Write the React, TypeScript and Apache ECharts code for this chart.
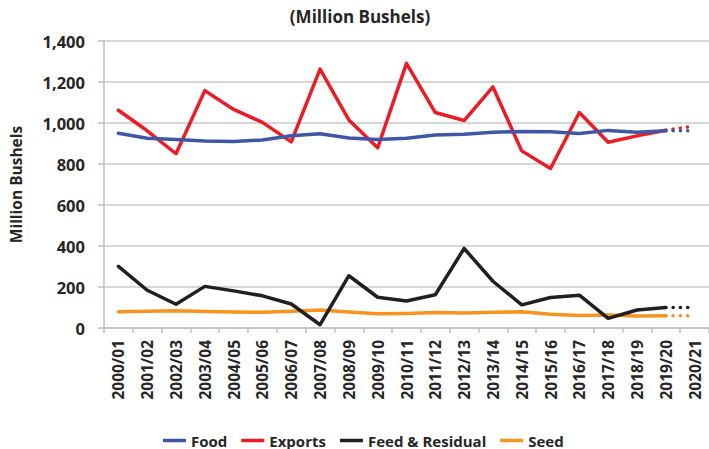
import React, { useEffect, useRef } from "react";
import * as echarts from "echarts";

const categories = [
  "2000/01", "2001/02", "2002/03", "2003/04", "2004/05", "2005/06", "2006/07",
  "2007/08", "2008/09", "2009/10", "2010/11", "2011/12", "2012/13", "2013/14",
  "2014/15", "2015/16", "2016/17", "2017/18", "2018/19", "2019/20", "2020/21",
];

const food = [950, 926, 919, 912, 910, 917, 938, 948, 927, 919, 926, 941, 945, 955, 958, 957, 949, 964, 955, 962, 962];
const exportsData = [1062, 962, 850, 1158, 1066, 1003, 908, 1263, 1015, 879, 1291, 1051, 1012, 1176, 864, 778, 1051, 906, 937, 965, 985];
const feed = [301, 184, 116, 203, 181, 157, 117, 16, 255, 150, 132, 162, 388, 228, 113, 149, 160, 47, 88, 100, 100];
const seed = [79, 82, 84, 80, 78, 77, 82, 88, 78, 69, 71, 76, 73, 77, 79, 67, 61, 63, 59, 60, 60];

const seriesNames = ["Food", "Exports", "Feed & Residual", "Seed"];
const seriesColors = ["#3F56A6", "#ED1C24", "#231F20", "#F7941D"];
const seriesData = [food, exportsData, feed, seed];

const yMin = 0;
const yMax = 1400;
const yInterval = 200;

const FONT = "'Open Sans', 'Noto Sans', sans-serif";
const TEXT = "#262626";

export default function App() {
  const ref = useRef<HTMLDivElement>(null);

  useEffect(() => {
    if (!ref.current) return;
    const chart = echarts.init(ref.current, null, { renderer: "svg" });
    const last = categories.length - 1;

    const series: any[] = [];
    seriesData.forEach((d, k) => {
      series.push({
        name: seriesNames[k],
        type: "line",
        data: d.map((v, i) => (i < last ? v : null)),
        showSymbol: false,
        symbol: "none",
        lineStyle: { color: seriesColors[k], width: 3.5, cap: "round", join: "round" },
        itemStyle: { color: seriesColors[k] },
        z: 10 - k,
      });
      series.push({
        name: seriesNames[k] + " (proj)",
        type: "line",
        data: d.map((v, i) => (i >= last - 1 ? v : null)),
        showSymbol: false,
        symbol: "none",
        lineStyle: { color: seriesColors[k], width: 3.5, type: [0.1, 7.2], cap: "round" },
        itemStyle: { color: seriesColors[k] },
        z: 10 - k,
      });
    });

    chart.setOption({
      animation: false,
      textStyle: { fontFamily: FONT },
      title: {
        text: "(Million Bushels)",
        left: 355,
        top: 3,
        textAlign: "center",
        textStyle: { fontFamily: FONT, fontSize: 17, fontWeight: "bold", color: TEXT },
      },
      legend: {
        data: seriesNames,
        left: 158,
        top: 428,
        icon: "rect",
        itemWidth: 23,
        itemHeight: 3.5,
        itemGap: 14,
        textStyle: { fontFamily: FONT, fontSize: 15, fontWeight: "bold", color: TEXT },
      },
      grid: { left: 98, top: 41, width: 616, height: 287, containLabel: false },
      xAxis: {
        type: "category",
        data: categories,
        boundaryGap: true,
        axisLine: { show: true, lineStyle: { color: "#BFBFBF", width: 1.5 } },
        axisTick: { show: true, length: 5, alignWithLabel: false, lineStyle: { color: "#BFBFBF", width: 1.5 } },
        axisLabel: {
          rotate: 90,
          interval: 0,
          margin: 12,
          fontFamily: FONT,
          fontSize: 15.5,
          fontWeight: "bold",
          color: TEXT,
        },
      },
      yAxis: {
        type: "value",
        min: yMin,
        max: yMax,
        interval: yInterval,
        name: "Million Bushels",
        nameLocation: "middle",
        nameGap: 80,
        nameTextStyle: { fontFamily: FONT, fontSize: 15.5, fontWeight: "bold", color: TEXT },
        axisLine: { show: true, lineStyle: { color: "#BFBFBF", width: 1.5 } },
        axisTick: { show: true, length: 6, lineStyle: { color: "#BFBFBF", width: 1.5 } },
        splitLine: { show: true, lineStyle: { color: "#C8C8C8", width: 1.5 } },
        axisLabel: {
          margin: 19,
          fontFamily: FONT,
          fontSize: 16.5,
          fontWeight: "bold",
          color: TEXT,
          formatter: (v: number) => v.toLocaleString("en-US"),
        },
      },
      series,
    });

    return () => chart.dispose();
  }, []);

  return (
    <div
      ref={ref}
      style={{ position: "fixed", left: 0, top: 0, width: 709, height: 449, background: "#fff" }}
    />
  );
}
